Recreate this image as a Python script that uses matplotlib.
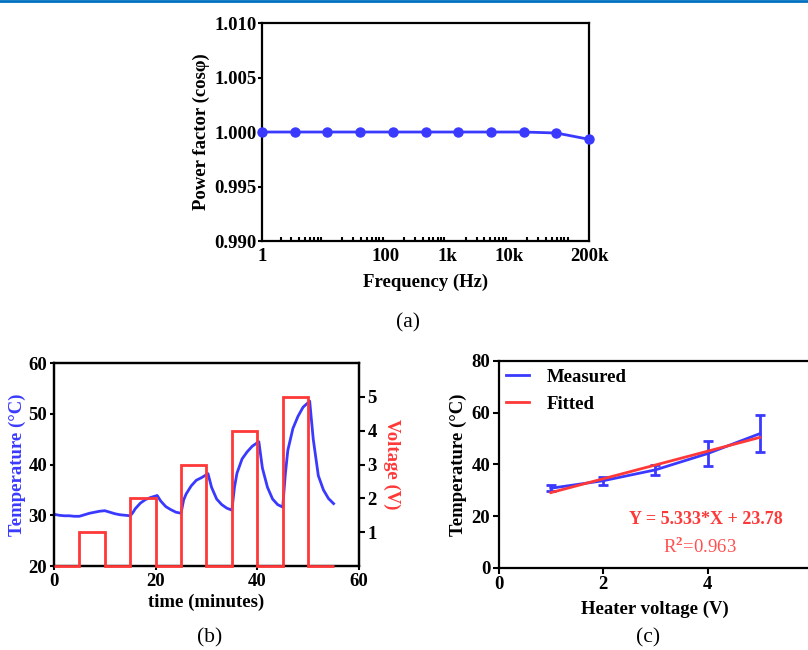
import matplotlib
matplotlib.use("Agg")
import matplotlib.pyplot as plt
from matplotlib.lines import Line2D
from matplotlib.ticker import LogLocator, NullFormatter
import numpy as np

plt.rcParams['font.family'] = ['Liberation Serif', 'DejaVu Serif']
plt.rcParams['font.weight'] = 'bold'
plt.rcParams['axes.linewidth'] = 1.6
plt.rcParams['mathtext.fontset'] = 'custom'
plt.rcParams['mathtext.rm'] = 'Liberation Serif'

BLUE = '#3a3aff'
RED = '#ff3838'

# (a) power factor vs frequency
freq = [1, 3.4, 11.5, 39, 132, 447, 1500, 5100, 17400, 59000, 200000]
power_factor = [1.0, 1.0, 1.0, 1.0, 1.0, 1.0, 1.0, 1.0, 1.0, 0.99991, 0.99933]
freq_ticks = [1, 100, 1000, 10000, 200000]
freq_labels = ['1', '100', '1k', '10k', '200k']

# (b) temperature and heater voltage vs time
time_min = [0, 1, 2, 3, 4, 5, 6, 7, 8, 9, 10, 11, 12, 13, 14, 15,
            15.5, 16, 17, 18, 19, 20, 20.3, 21, 22, 23, 24, 25,
            25.5, 26, 27, 28, 29, 30, 30.3, 31, 32, 33, 34, 35,
            35.5, 36, 37, 38, 39, 40, 40.3, 41, 42, 43, 44, 45,
            45.5, 46, 47, 48, 49, 50, 50.3, 51, 52, 53, 54, 55]
temp_c = [30.2, 30.0, 29.9, 29.9, 29.8, 29.8, 30.1, 30.4, 30.6, 30.8, 30.9, 30.6, 30.3, 30.1, 30.0, 29.9,
          30.5, 31.3, 32.4, 33.1, 33.5, 33.8, 33.9, 32.8, 31.7, 31.1, 30.6, 30.4,
          33.0, 34.2, 35.8, 36.9, 37.4, 38.0, 38.2, 35.5, 33.2, 32.1, 31.4, 31.0,
          35.5, 38.3, 41.1, 42.5, 43.6, 44.3, 44.5, 39.3, 35.5, 33.2, 32.1, 31.6,
          38.0, 42.8, 47.1, 49.5, 51.3, 52.2, 52.5, 45.0, 37.8, 35.0, 33.3, 32.3]
step_edges = [0, 5, 10, 15, 20, 25, 30, 35, 40, 45, 50, 55]
step_volts = [0, 1, 0, 2, 0, 3, 0, 4, 0, 5, 0]

# (c) temperature vs heater voltage
heater_v = [1, 2, 3, 4, 5]
meas_temp = [30.8, 33.7, 37.9, 44.2, 51.9]
meas_err = [1.2, 1.5, 2.0, 4.7, 7.1]
fit_temp = [29.11, 34.45, 39.78, 45.11, 50.45]

fs = 13.5

fig = plt.figure(figsize=(8.08, 6.5), dpi=100)
fig.add_artist(Line2D([0, 1], [0.9985, 0.9985], color='#0070c0', lw=2))

# ---- (a)
ax = fig.add_axes([0.3243, 0.6292, 0.4047, 0.3354])
ax.plot(freq, power_factor, color=BLUE, lw=2, marker='o', ms=6.5, clip_on=False, zorder=3)
ax.set_xscale('log')
ax.set_xlim(1, 200000)
ax.set_ylim(0.990, 1.010)
ax.set_xticks(freq_ticks)
ax.set_xticklabels(freq_labels)
ax.xaxis.set_minor_locator(LogLocator(base=10, subs=np.arange(2, 10), numticks=20))
ax.xaxis.set_minor_formatter(NullFormatter())
ax.set_yticks([0.990, 0.995, 1.000, 1.005, 1.010])
ax.set_yticklabels(['0.990', '0.995', '1.000', '1.005', '1.010'])
ax.tick_params(axis='x', which='major', length=0, pad=5, labelsize=fs)
ax.tick_params(axis='x', which='minor', direction='in', length=3, width=1.5)
ax.tick_params(axis='y', length=3, width=1.5, pad=1, labelsize=fs)
ax.set_xlabel('Frequency (Hz)', fontsize=fs, fontweight='bold', labelpad=6)
ax.set_ylabel('Power factor (cos\u03c6)', fontsize=fs, fontweight='bold', labelpad=3)
fig.text(408 / 808, 1 - 323 / 650, '(a)', ha='center', va='center', fontsize=15.5, fontweight='normal')

# ---- (b)
axb = fig.add_axes([0.0668, 0.1292, 0.3775, 0.3123])
axb.plot(time_min, temp_c, color=BLUE, lw=2)
axb.set_xlim(0, 60)
axb.set_ylim(20, 60)
axb.set_xticks([0, 20, 40, 60])
axb.set_yticks([20, 30, 40, 50, 60])
axb.tick_params(length=3, width=1.5, pad=2, labelsize=fs)
axb.set_xlabel('time (minutes)', fontsize=fs, fontweight='bold', labelpad=3)
axb.set_ylabel('Temperature (\u00b0C)', fontsize=fs, fontweight='bold', color=BLUE, labelpad=2)

axv = axb.twinx()
axv.stairs(step_volts, step_edges, color=RED, lw=2, baseline=0, clip_on=False, zorder=3)
axv.set_ylim(0, 6)
axv.set_yticks([1, 2, 3, 4, 5])
axv.tick_params(length=4, width=1.5, pad=2, labelsize=fs)
axv.set_ylabel('Voltage (V)', fontsize=fs, fontweight='bold', color=RED, rotation=270, labelpad=17)
fig.text(210 / 808, 1 - 638 / 650, '(b)', ha='center', va='center', fontsize=15.5, fontweight='normal')

# ---- (c)
axc = fig.add_axes([0.617, 0.1262, 0.388, 0.3185])
axc.errorbar(heater_v, meas_temp, yerr=meas_err, fmt='none', ecolor=BLUE, elinewidth=2,
             capsize=3.5, capthick=2)
axc.plot(heater_v, meas_temp, color=BLUE, lw=2, label='Measured')
axc.plot(heater_v, fit_temp, color=RED, lw=2, label='Fitted')
axc.set_xlim(0, 6)
axc.set_ylim(0, 80)
axc.set_xticks([0, 2, 4, 6])
axc.set_yticks([0, 20, 40, 60, 80])
axc.tick_params(length=4, width=1.5, pad=2, labelsize=fs)
axc.set_xlabel('Heater voltage (V)', fontsize=fs, fontweight='bold', labelpad=5)
axc.set_ylabel('Temperature (\u00b0C)', fontsize=fs, fontweight='bold', labelpad=3)
axc.legend(loc='upper left', frameon=False, fontsize=fs, handlelength=1.25,
           handletextpad=0.9, labelspacing=0.55, borderaxespad=0.2, borderpad=0.2)
axc.text(706 / 808, 1 - 519 / 650, 'Y = 5.333*X + 23.78', transform=fig.transFigure,
         ha='center', va='center', color=RED, fontsize=13, fontweight='bold')
axc.text(700 / 808, 1 - 547 / 650, 'R$^2$=0.963', transform=fig.transFigure,
         ha='center', va='center', color='#ff5050', fontsize=13.5, fontweight='normal')
fig.text(648 / 808, 1 - 638 / 650, '(c)', ha='center', va='center', fontsize=15.5, fontweight='normal')

fig.savefig('out.png', dpi=100)
